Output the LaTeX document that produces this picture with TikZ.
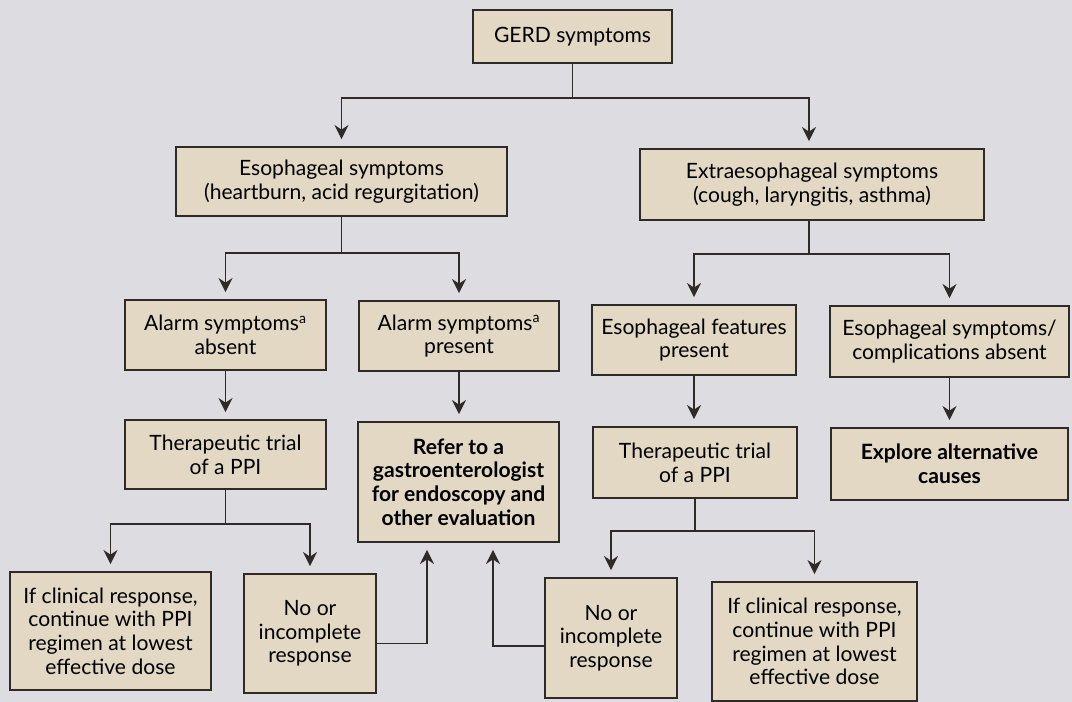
\documentclass[tikz,border=0pt]{standalone}
\usepackage{fontspec}
\setmainfont{Lato}
\usepackage{tikz}
\usetikzlibrary{arrows.meta}
\definecolor{paper}{RGB}{221,221,225}
\definecolor{boxfill}{RGB}{226,216,196}
\definecolor{ink}{RGB}{45,42,40}

\begin{document}
\begin{tikzpicture}[
  box/.style={draw=ink, line width=1pt, fill=boxfill, align=center, inner sep=2pt,
    font=\fontsize{12}{13.5}\selectfont},
  >={Stealth[length=8pt,width=8pt]},
  link/.style={draw=ink, line width=1pt},
  arr/.style={link, ->, shorten >=4pt}
]
%\draw[help lines, color=gray!30, thick] (0,-14) grid (21,0);
\fill [paper] (0,0) rectangle (21.44,-14.04);
\useasboundingbox (0,0) rectangle (21.44,-14.04);

\node [box, minimum width=3.98cm, minimum height=1.06cm] (gerd) at (11.45,-0.73) {GERD symptoms};
\node [box, minimum width=6.62cm, minimum height=1.38cm] (eso) at (6.83,-3.63) {Esophageal symptoms\\(heartburn, acid regurgitation)};
\node [box, minimum width=6.88cm, minimum height=1.42cm] (extra) at (16.24,-3.69) {Extraesophageal symptoms\\(cough, laryngitis, asthma)};

\node [box, minimum width=4.02cm, minimum height=1.40cm] (absent) at (4.51,-6.70) {Alarm symptoms\textsuperscript{a}\\absent};
\node [box, minimum width=4.00cm, minimum height=1.40cm] (present) at (9.18,-6.72) {Alarm symptoms\textsuperscript{a}\\present};
\node [box, minimum width=4.08cm, minimum height=1.40cm] (features) at (13.88,-6.80) {Esophageal features\\present};
\node [box, minimum width=4.78cm, minimum height=1.42cm] (noesoph) at (18.99,-6.83) {Esophageal symptoms/\\complications absent};

\node [box, minimum width=4.02cm, minimum height=1.38cm] (trial_l) at (4.51,-9.09) {Therapeutic trial\\of a PPI};
\node [box, minimum width=4.02cm, minimum height=2.40cm, font=\fontsize{12}{13.5}\selectfont\bfseries] (refer) at (9.17,-9.64) {Refer to a\\gastroenterologist\\for endoscopy and\\other evaluation};
\node [box, minimum width=4.08cm, minimum height=1.42cm] (trial_r) at (13.90,-9.25) {Therapeutic trial\\of a PPI};
\node [box, minimum width=4.74cm, minimum height=1.44cm, font=\fontsize{12}{13.5}\selectfont\bfseries] (explore) at (18.99,-9.28) {Explore alternative\\causes};

\node [box, minimum width=4.02cm, minimum height=2.36cm] (cont_l) at (2.21,-12.62) {If clinical response,\\continue with PPI\\regimen at lowest\\effective dose};
\node [box, minimum width=2.64cm, minimum height=2.38cm] (none_l) at (6.20,-12.67) {No or\\incomplete\\response};
\node [box, minimum width=2.64cm, minimum height=2.40cm] (none_r) at (12.22,-12.76) {No or\\incomplete\\response};
\node [box, minimum width=4.10cm, minimum height=2.38cm] (cont_r) at (16.29,-12.83) {If clinical response,\\continue with PPI\\regimen at lowest\\effective dose};

\draw [arr] (gerd.south) -- ++(0,-0.68) -| (eso.north);
\draw [arr] (gerd.south) -- ++(0,-0.68) -| ([xshift=-0.06cm]extra.north);

\draw [arr] (eso.south) -- ++(0,-0.72) -| (absent.north);
\draw [arr] (eso.south) -- ++(0,-0.72) -| (present.north);
\draw [arr] ([xshift=-0.06cm]extra.south) -- ++(0,-0.66) -| (features.north);
\draw [arr] ([xshift=-0.06cm]extra.south) -- ++(0,-0.66) -| (noesoph.north);

\draw [arr] (absent.south) -- (absent.south |- trial_l.north);
\draw [arr] (present.south) -- (present.south |- refer.north);
\draw [arr] (features.south) -- (features.south |- trial_r.north);
\draw [arr] (noesoph.south) -- (noesoph.south |- explore.north);

\draw [arr] (trial_l.south) -- ++(0,-0.68) -| (cont_l.north);
\draw [arr] (trial_l.south) -- ++(0,-0.68) -| (none_l.north);
\draw [arr] (trial_r.south) -- ++(0,-0.64) -| (none_r.north);
\draw [arr] (trial_r.south) -- ++(0,-0.64) -| (cont_r.north);

% back to the referral
\draw [arr] ([yshift=-0.2cm]none_l.east) -| ([xshift=-0.63cm]refer.south);
\draw [arr] ([yshift=-0.16cm]none_r.west) -| ([xshift=0.69cm]refer.south);
\end{tikzpicture}
\end{document}
